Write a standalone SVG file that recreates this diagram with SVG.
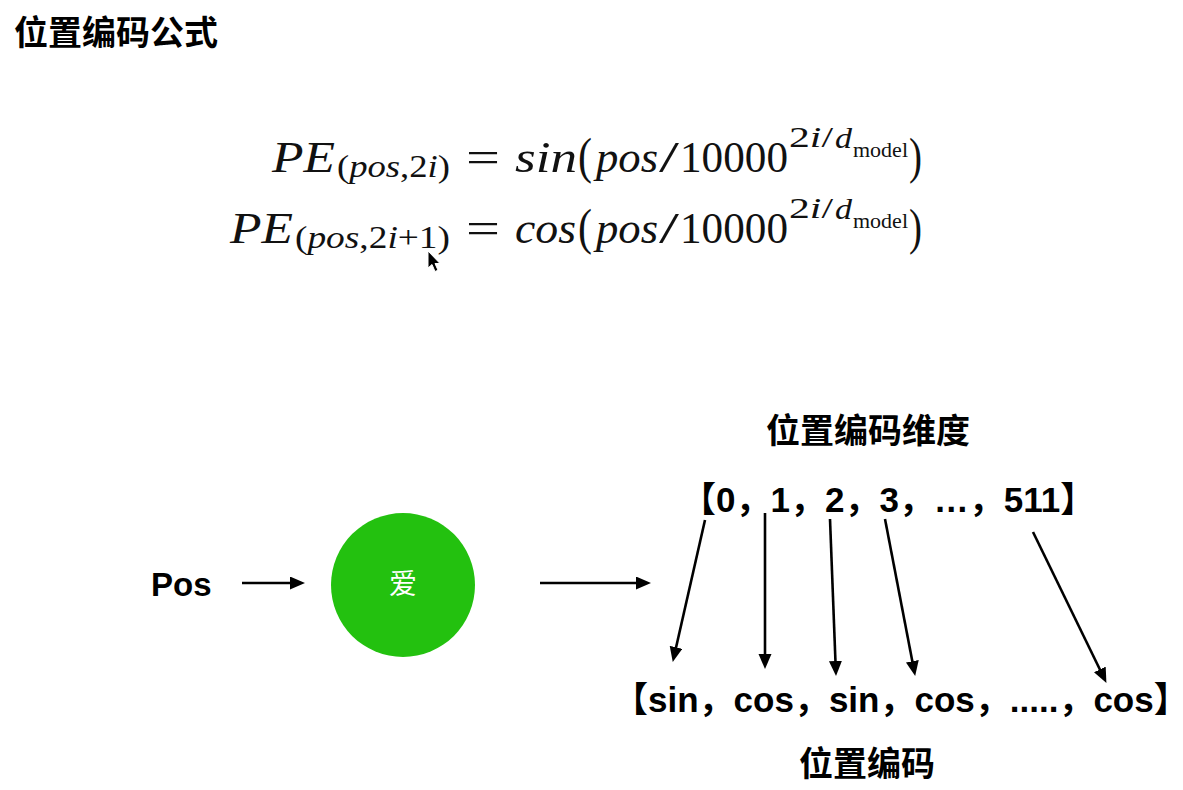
<svg xmlns="http://www.w3.org/2000/svg" width="1183" height="790" viewBox="0 0 1183 790">
<style>
.cjk{font-family:"Noto Sans CJK SC","Liberation Sans",sans-serif;font-weight:bold;fill:#000}
.lbl{font-family:"Liberation Sans","Noto Sans CJK SC",sans-serif;font-weight:bold;fill:#000}
.m{font-family:"Liberation Serif","DejaVu Serif",serif;fill:#111}
.it{font-style:italic}
.conn line{stroke:#000;stroke-width:2.6;fill:none}
</style>
<defs>
<marker id="ah" markerUnits="userSpaceOnUse" markerWidth="16" markerHeight="14" refX="4" refY="6.5" orient="auto">
<path d="M0,0 L15,6.5 L0,13 Z" fill="#000"/>
</marker>
</defs>
<rect width="1183" height="790" fill="#fff"/>

<g id="title"><text class="cjk" x="14" y="45" font-size="34">位置编码公式</text></g>

<g id="formula1">
<text class="m it" x="272" y="172" font-size="44" textLength="63" lengthAdjust="spacingAndGlyphs">PE</text>
<text class="m" x="337" y="177" font-size="32" textLength="113" lengthAdjust="spacingAndGlyphs">(<tspan class="it">pos</tspan>,2<tspan class="it">i</tspan>)</text>
<text class="m" x="466" y="172" font-size="44" textLength="34" lengthAdjust="spacingAndGlyphs">=</text>
<text class="m it" x="515" y="172" font-size="44" textLength="62" lengthAdjust="spacingAndGlyphs">sin</text>
<text class="m" x="578" y="173" font-size="50" textLength="14" lengthAdjust="spacingAndGlyphs">(</text>
<text class="m it" x="596" y="172" font-size="44" textLength="62" lengthAdjust="spacingAndGlyphs">pos</text>
<text class="m" x="659" y="172" font-size="44" textLength="20" lengthAdjust="spacingAndGlyphs">/</text>
<text class="m" x="680" y="172" font-size="44" textLength="108" lengthAdjust="spacingAndGlyphs">10000</text>
<text class="m" x="789" y="147" font-size="29" textLength="44" lengthAdjust="spacingAndGlyphs">2<tspan class="it">i</tspan>/</text>
<text class="m it" x="835" y="148" font-size="29" textLength="17" lengthAdjust="spacingAndGlyphs">d</text>
<text class="m" x="853" y="157" font-size="21" textLength="55" lengthAdjust="spacingAndGlyphs">model</text>
<text class="m" x="909" y="173" font-size="50" textLength="13" lengthAdjust="spacingAndGlyphs">)</text>
</g>

<g id="formula2">
<text class="m it" x="230" y="243" font-size="44" textLength="63" lengthAdjust="spacingAndGlyphs">PE</text>
<text class="m" x="295" y="248" font-size="32" textLength="155" lengthAdjust="spacingAndGlyphs">(<tspan class="it">pos</tspan>,2<tspan class="it">i</tspan>+1)</text>
<text class="m" x="466" y="243" font-size="44" textLength="34" lengthAdjust="spacingAndGlyphs">=</text>
<text class="m it" x="515" y="243" font-size="44" textLength="61" lengthAdjust="spacingAndGlyphs">cos</text>
<text class="m" x="578" y="244" font-size="50" textLength="14" lengthAdjust="spacingAndGlyphs">(</text>
<text class="m it" x="596" y="243" font-size="44" textLength="62" lengthAdjust="spacingAndGlyphs">pos</text>
<text class="m" x="659" y="243" font-size="44" textLength="20" lengthAdjust="spacingAndGlyphs">/</text>
<text class="m" x="680" y="243" font-size="44" textLength="108" lengthAdjust="spacingAndGlyphs">10000</text>
<text class="m" x="789" y="218" font-size="29" textLength="44" lengthAdjust="spacingAndGlyphs">2<tspan class="it">i</tspan>/</text>
<text class="m it" x="835" y="219" font-size="29" textLength="17" lengthAdjust="spacingAndGlyphs">d</text>
<text class="m" x="853" y="228" font-size="21" textLength="55" lengthAdjust="spacingAndGlyphs">model</text>
<text class="m" x="909" y="244" font-size="50" textLength="13" lengthAdjust="spacingAndGlyphs">)</text>
</g>

<g id="cursor">
<path d="M428,251 L428,268 L432,264.5 L435,271.5 L438,270.2 L435,263.5 L440,263.5 Z" fill="#000" stroke="#fff" stroke-width="1"/>
</g>

<g id="pos"><text class="lbl" x="151" y="596" font-size="33">Pos</text></g>

<g id="word">
<circle cx="403" cy="585" r="72" fill="#23C10F"/>
<text x="403" y="594" font-size="28" text-anchor="middle" fill="#fff" font-family="Noto Sans CJK SC, sans-serif">爱</text>
</g>

<g id="dim-title"><text class="cjk" x="868" y="443" font-size="34" text-anchor="middle">位置编码维度</text></g>

<g id="dims"><text class="lbl" x="681" y="512" font-size="35">【0，1，2，3，…，511】</text></g>

<g id="encs"><text class="lbl" x="613" y="712" font-size="35">【sin，cos，sin，cos，.....，cos】</text></g>

<g id="enc-title"><text class="cjk" x="867" y="776" font-size="34" text-anchor="middle">位置编码</text></g>

<g id="connectors" class="conn">
<line x1="242" y1="583" x2="294" y2="583" marker-end="url(#ah)"/>
<line x1="540" y1="583" x2="640" y2="583" marker-end="url(#ah)"/>
<line x1="705" y1="520" x2="675.2" y2="651.2" marker-end="url(#ah)"/>
<line x1="765" y1="513" x2="765" y2="658" marker-end="url(#ah)"/>
<line x1="830" y1="519" x2="835.6" y2="665" marker-end="url(#ah)"/>
<line x1="885" y1="519" x2="913.1" y2="665.2" marker-end="url(#ah)"/>
<line x1="1033" y1="532" x2="1101.6" y2="673" marker-end="url(#ah)"/>
</g>
</svg>
